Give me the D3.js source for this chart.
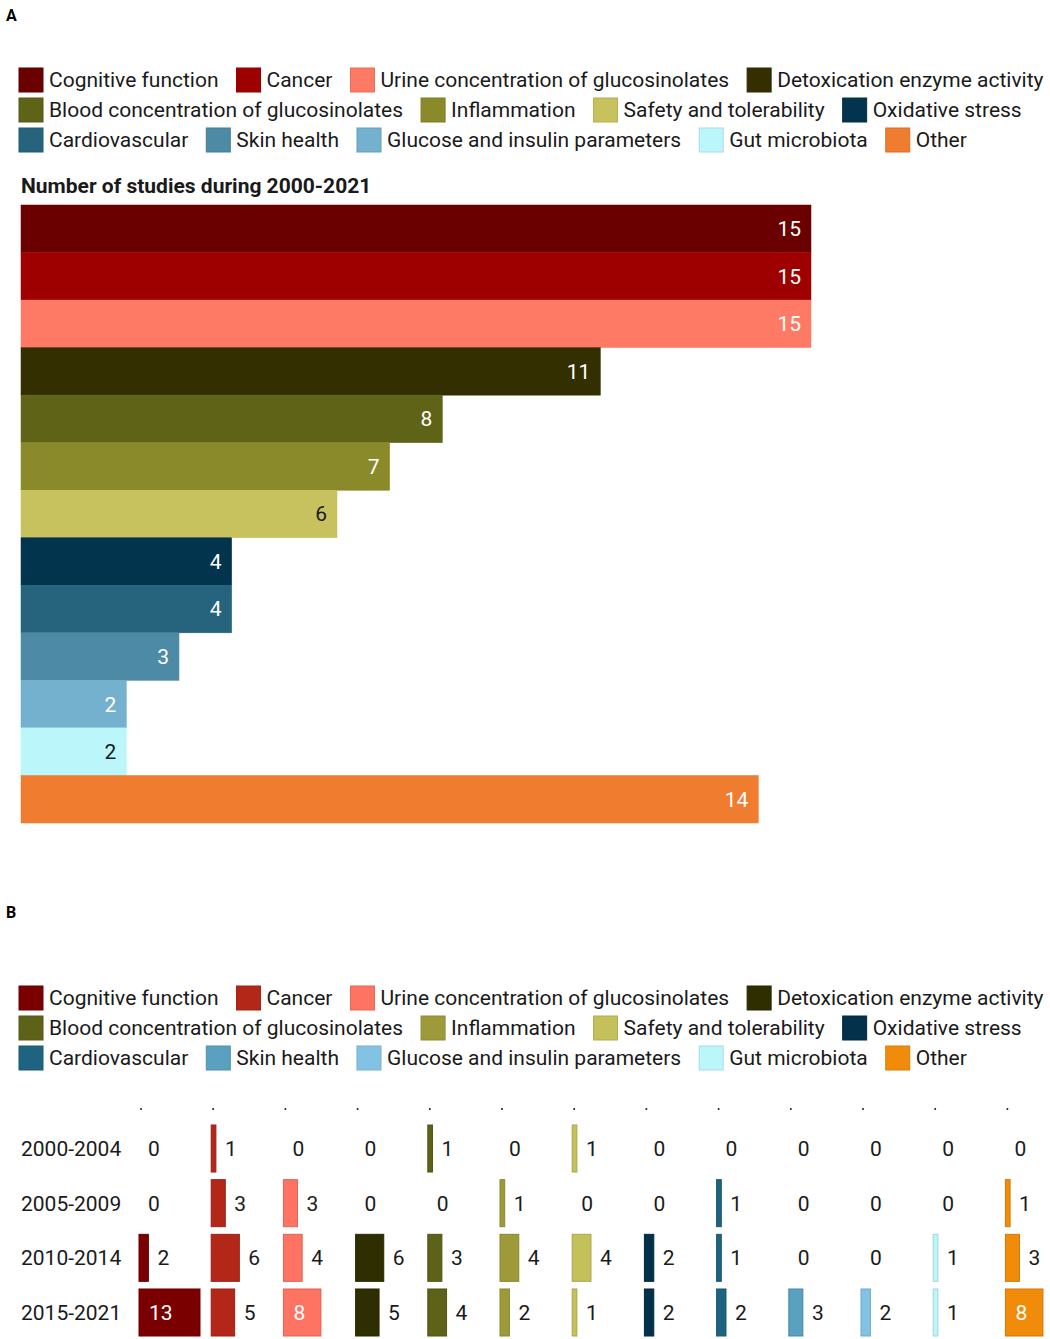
<!DOCTYPE html>
<html lang="en">
<head>
<meta charset="UTF-8" />
<title>Studies by outcome</title>
<script src="https://d3js.org/d3.v7.min.js"></script>
<style>
  body { margin: 0; background: #fff; }
  text { font-family: Roboto, "Noto Sans", sans-serif; }
</style>
</head>
<body>
<svg id="chart"></svg>
<script>
// outcome categories, same order in both panels
var categories = ["Cognitive function", "Cancer", "Urine concentration of glucosinolates",
  "Detoxication enzyme activity", "Blood concentration of glucosinolates", "Inflammation",
  "Safety and tolerability", "Oxidative stress", "Cardiovascular", "Skin health",
  "Glucose and insulin parameters", "Gut microbiota", "Other"];

// panel A: total number of studies 2000-2021
var totals = [15, 15, 15, 11, 8, 7, 6, 4, 4, 3, 2, 2, 14];

// panel B: studies per period
var periods = ["2000-2004", "2005-2009", "2010-2014", "2015-2021"];
var counts2000 = [0, 1, 0, 0, 1, 0, 1, 0, 0, 0, 0, 0, 0];
var counts2005 = [0, 3, 3, 0, 0, 1, 0, 0, 1, 0, 0, 0, 1];
var counts2010 = [2, 6, 4, 6, 3, 4, 4, 2, 1, 0, 0, 1, 3];
var counts2015 = [13, 5, 8, 5, 4, 2, 1, 2, 2, 3, 2, 1, 8];

var colorsA = ["#6b0000", "#9e0000", "#ff7a65", "#332f00", "#5f6318", "#8b8a2a",
  "#c7c25e", "#02344d", "#26647e", "#4d8aa6", "#74b1ce", "#bbf7fa", "#f07c30"];
var colorsB = ["#7a0000", "#b22718", "#ff7363", "#2e2e00", "#5e6218", "#9e9a3a",
  "#c4c05a", "#03304a", "#1e6480", "#5aa0c0", "#82c3e3", "#bbf7fa", "#f08c0a"];

var width = 1050, height = 1339;
var fs = 21;
var svg = d3.select("#chart").attr("width", width).attr("height", height);

// legend, 3 rows: 4 + 4 + 5 items
function drawLegend(y0, colors) {
  var breaks = [4, 8];
  var g = svg.append("g");
  var x = 19, y = y0;
  categories.forEach(function (c, i) {
    if (breaks.indexOf(i) >= 0) { x = 19; y += 30; }
    g.append("rect")
      .attr("x", x).attr("y", y - 12)
      .attr("width", 24).attr("height", 24)
      .attr("fill", colors[i])
      .attr("stroke", d3.color(colors[i]).darker(0.3))
      .attr("stroke-width", 1);
    var t = g.append("text")
      .attr("x", x + 30).attr("y", y)
      .attr("dy", "0.35em")
      .attr("font-size", fs)
      .attr("fill", "#1a1a1a")
      .text(c);
    x += 30 + t.node().getComputedTextLength() + 18;
  });
}

// ---------- panel A ----------
svg.append("text").attr("x", 6).attr("y", 21)
  .attr("font-size", 16).attr("font-weight", "bold").text("A");

drawLegend(80, colorsA);

svg.append("text").attr("x", 21).attr("y", 193)
  .attr("font-size", fs).attr("font-weight", "bold").attr("fill", "#1a1a1a")
  .text("Number of studies during 2000-2021");

var xA = d3.scaleLinear().domain([0, 15]).range([21, 811]);
var yA = d3.scaleBand().domain(categories).range([205, 823]).padding(0);

var darkLabel = ["Safety and tolerability", "Gut microbiota"];

svg.append("g").selectAll("rect")
  .data(totals)
  .enter()
  .append("rect")
  .attr("x", xA(0))
  .attr("y", function (d, i) { return yA(categories[i]); })
  .attr("width", function (d) { return xA(d) - xA(0); })
  .attr("height", yA.bandwidth())
  .attr("fill", function (d, i) { return colorsA[i]; })
  .attr("stroke", function (d, i) { return colorsA[i]; })
  .attr("stroke-width", 0.5);

svg.append("g").selectAll("text")
  .data(totals)
  .enter()
  .append("text")
  .attr("x", function (d) { return xA(d) - 10; })
  .attr("y", function (d, i) { return yA(categories[i]) + yA.bandwidth() / 2; })
  .attr("dy", "0.35em")
  .attr("text-anchor", "end")
  .attr("font-size", fs)
  .attr("fill", function (d, i) { return darkLabel.indexOf(categories[i]) >= 0 ? "#1a1a1a" : "#fff"; })
  .text(function (d) { return d; });

// ---------- panel B ----------
svg.append("text").attr("x", 6).attr("y", 918)
  .attr("font-size", 16).attr("font-weight", "bold").text("B");

drawLegend(998, colorsB);

var table = [counts2000, counts2005, counts2010, counts2015];
var xCol = d3.scaleBand().domain(categories).range([139, 139 + 13 * 72.2]).padding(0);
var wB = d3.scaleLinear().domain([0, 13]).range([0, 61]);
var yB = d3.scaleBand().domain(periods).range([1125, 1336]).paddingInner(0.14).paddingOuter(0);

// little column markers on top
svg.append("g").selectAll("circle")
  .data(categories)
  .enter()
  .append("circle")
  .attr("cx", function (d) { return xCol(d) + 2; })
  .attr("cy", 1109)
  .attr("r", 1)
  .attr("fill", "#1a1a1a");

// row labels
svg.append("g").selectAll("text")
  .data(periods)
  .enter()
  .append("text")
  .attr("x", 21)
  .attr("y", function (d) { return yB(d) + yB.bandwidth() / 2; })
  .attr("dy", "0.35em")
  .attr("font-size", fs)
  .attr("fill", "#1a1a1a")
  .text(function (d) { return d; });

table.forEach(function (row, r) {
  var g = svg.append("g");
  var cells = row.map(function (v, i) { return { v: v, i: i }; });

  g.selectAll("rect")
    .data(cells.filter(function (c) { return c.v > 0; }))
    .enter()
    .append("rect")
    .attr("x", function (c) { return xCol(categories[c.i]); })
    .attr("y", yB(periods[r]))
    .attr("width", function (c) { return wB(c.v); })
    .attr("height", yB.bandwidth())
    .attr("fill", function (c) { return colorsB[c.i]; })
    .attr("stroke", function (c) { return d3.color(colorsB[c.i]).darker(0.4); })
    .attr("stroke-width", 1);

  g.selectAll("text")
    .data(cells)
    .enter()
    .append("text")
    .attr("x", function (c) {
      var x0 = xCol(categories[c.i]);
      return c.v >= 8 ? x0 + 10 : x0 + wB(c.v) + 9;
    })
    .attr("y", yB(periods[r]) + yB.bandwidth() / 2)
    .attr("dy", "0.35em")
    .attr("font-size", fs)
    .attr("fill", function (c) { return c.v >= 8 ? "#fff" : "#1a1a1a"; })
    .text(function (c) { return c.v; });
});
</script>
</body>
</html>
